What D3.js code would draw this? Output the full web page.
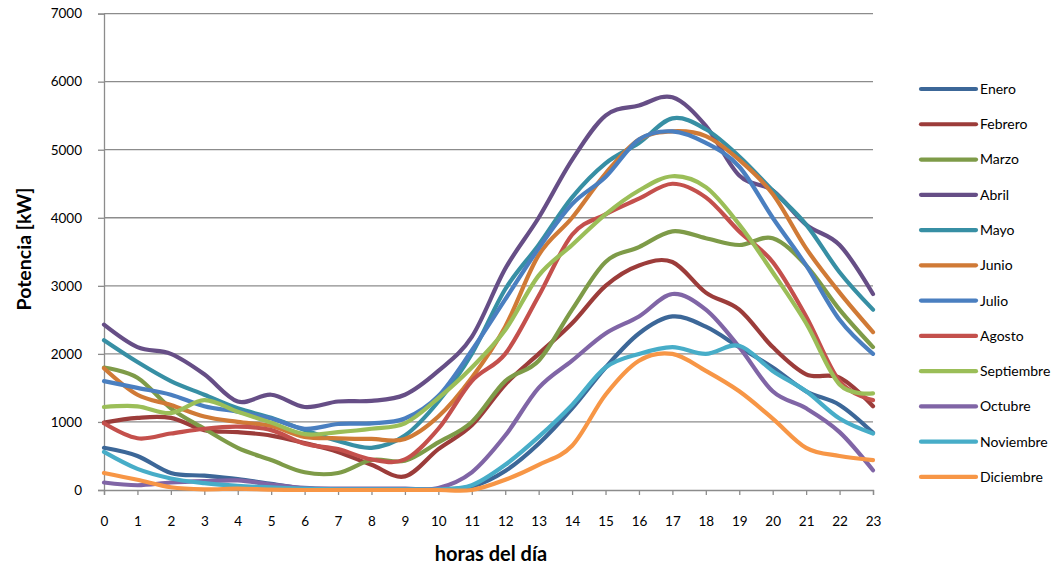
<!DOCTYPE html>
<html><head><meta charset="utf-8">
<script src="https://cdn.jsdelivr.net/npm/d3@7"></script>
<style>body{margin:0;background:#fff}svg{display:block}</style>
</head><body>
<svg id="c" width="1056" height="564"></svg>
<script>
const hours = d3.range(0,24);
const months = ["Enero","Febrero","Marzo","Abril","Mayo","Junio","Julio","Agosto","Septiembre","Octubre","Noviembre","Diciembre"];
const colors = ["#3C6798","#9C3C3A","#7E9B48","#664E86","#378FA4","#D07A36","#4A7FC0","#C4504C","#9BBE58","#8065A6","#47ADC8","#F79646"];
const yTicks = [0,1000,2000,3000,4000,5000,6000,7000];

const enero      = [620,500,250,210,160,90,20,10,10,10,10,50,280,680,1200,1800,2300,2550,2400,2100,1800,1450,1250,840];
const febrero    = [990,1060,1060,880,850,800,690,560,370,200,600,950,1550,2000,2450,3000,3300,3350,2900,2650,2100,1700,1650,1230];
const marzo      = [1800,1650,1200,900,620,440,260,250,440,430,700,1000,1600,1900,2650,3350,3570,3800,3700,3600,3700,3300,2650,2100];
const abril      = [2430,2100,2000,1700,1300,1400,1220,1300,1310,1400,1750,2250,3250,4000,4850,5500,5650,5770,5350,4620,4400,3900,3600,2880];
const mayo       = [2200,1880,1600,1400,1200,1060,880,720,620,800,1300,2000,2950,3600,4300,4800,5100,5460,5300,4900,4400,3900,3200,2650];
const junio      = [1790,1400,1250,1080,1000,940,780,760,750,750,1080,1650,2400,3450,4000,4650,5150,5270,5200,4850,4350,3550,2900,2320];
const julio      = [1600,1500,1400,1230,1150,1050,900,970,980,1050,1380,2050,2800,3550,4200,4600,5150,5270,5100,4750,4000,3300,2500,2000];
const agosto     = [980,760,830,900,930,880,680,600,450,450,900,1600,2000,2850,3750,4050,4280,4500,4300,3800,3350,2550,1600,1320];
const septiembre = [1220,1230,1130,1320,1150,990,820,850,900,980,1350,1800,2350,3150,3600,4050,4400,4610,4450,3900,3200,2450,1550,1420];
const octubre    = [110,70,110,130,140,80,30,20,20,20,30,260,800,1500,1900,2300,2550,2880,2650,2100,1450,1200,850,290];
const noviembre  = [560,310,170,100,60,40,20,10,10,10,10,70,370,780,1250,1800,2000,2100,2000,2120,1750,1450,1050,830];
const diciembre  = [250,150,40,10,20,5,0,0,0,0,0,0,150,370,650,1400,1900,2000,1750,1450,1050,620,500,440];
const series = [enero,febrero,marzo,abril,mayo,junio,julio,agosto,septiembre,octubre,noviembre,diciembre];

const svg = d3.select("#c");
const font = "Lato, 'Open Sans', sans-serif";
const x = d3.scaleLinear().domain([0,23]).range([104,873]);
const y = d3.scaleLinear().domain([0,7000]).range([490,13.6]);

// gridlines
svg.append("g").selectAll("line").data(yTicks.filter(d=>d>0)).join("line")
  .attr("x1",x(0)).attr("x2",x(23)).attr("y1",d=>y(d)).attr("y2",d=>y(d))
  .attr("stroke","#8c8c8c").attr("stroke-width",1.3);

// y axis
const ya = svg.append("g").attr("transform",`translate(${x(0)},0)`)
  .call(d3.axisLeft(y).tickValues(yTicks).tickSize(6).tickPadding(16).tickFormat(d3.format("d")));
ya.select(".domain").attr("stroke","#8c8c8c").attr("stroke-width",1.3);
ya.selectAll(".tick line").attr("stroke","#8c8c8c").attr("stroke-width",1.3);
ya.selectAll("text").attr("font-family",font).attr("font-size",13.5).attr("fill","#000");

// x axis
const xa = svg.append("g").attr("transform",`translate(0,${y(0)})`)
  .call(d3.axisBottom(x).tickValues(hours).tickSize(5).tickPadding(21).tickFormat(d3.format("d")));
xa.select(".domain").attr("stroke","#8c8c8c").attr("stroke-width",1.3);
xa.selectAll(".tick line").attr("stroke","#8c8c8c").attr("stroke-width",1.3);
xa.selectAll("text").attr("font-family",font).attr("font-size",13.5).attr("fill","#000");

// lines
const line = d3.line().x((d,i)=>x(hours[i])).y(d=>y(d)).curve(d3.curveCatmullRom.alpha(0));
svg.append("g").selectAll("path").data(series).join("path")
  .attr("d",line).attr("fill","none")
  .attr("stroke",(d,i)=>colors[i]).attr("stroke-width",4.2)
  .attr("stroke-linejoin","round").attr("stroke-linecap","round");

// axis titles
svg.append("text").attr("x",491).attr("y",561).attr("text-anchor","middle")
  .attr("font-family",font).attr("font-weight","bold").attr("font-size",20).text("horas del día");
svg.append("text").attr("transform","translate(31,249) rotate(-90)").attr("text-anchor","middle")
  .attr("font-family",font).attr("font-weight","bold").attr("font-size",19.5).text("Potencia [kW]");

// legend
const lg = svg.append("g").selectAll("g").data(months).join("g")
  .attr("transform",(d,i)=>`translate(921,${89+i*35.27})`);
lg.append("line").attr("x1",0).attr("x2",55).attr("stroke",(d,i)=>colors[i])
  .attr("stroke-width",4.2).attr("stroke-linecap","round");
lg.append("text").attr("x",59).attr("dy","0.35em").attr("font-family",font)
  .attr("font-size",14).attr("fill","#000").text(d=>d);
</script>
</body></html>
